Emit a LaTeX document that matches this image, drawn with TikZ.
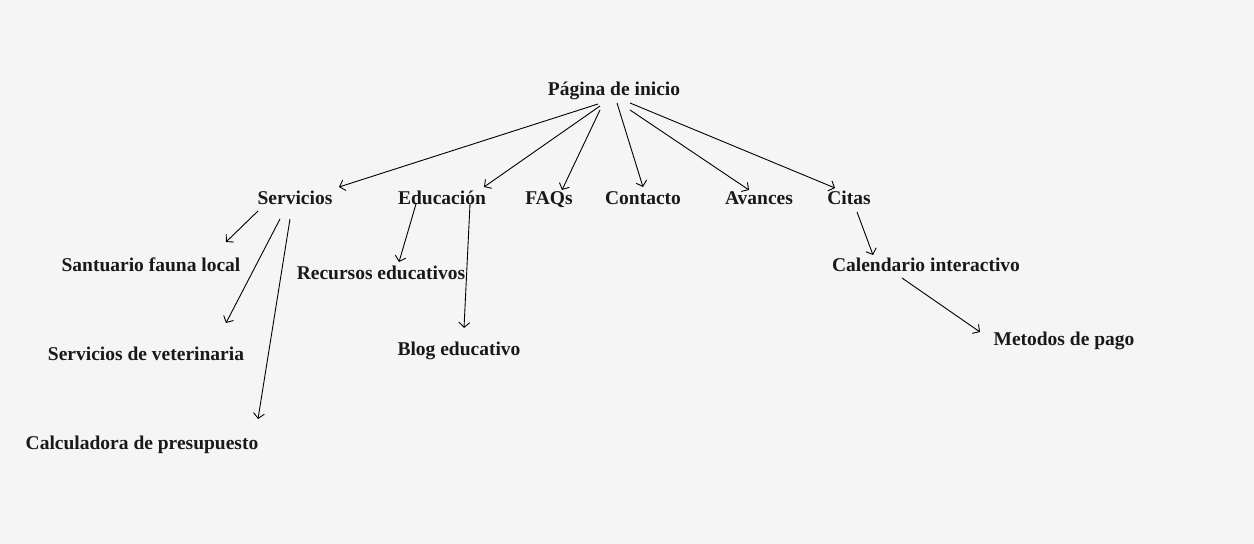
\documentclass[tikz,border=0pt]{standalone}
\usepackage{fontspec}
\setmainfont{Liberation Serif}
\usetikzlibrary{arrows.meta}

\definecolor{pagebg}{HTML}{F5F5F5}

\begin{document}
\begin{tikzpicture}[
        x=1bp, y=-1bp,
        page/.style={font=\fontsize{19.5bp}{23bp}\selectfont\bfseries, text=black!90, inner sep=1pt, text height=1.5ex, text depth=0.3ex},
        line/.style={draw, -{Straight Barb[length=5bp, width=11bp]}, line width=0.9bp, black}
    ]
        % Background
        \fill [pagebg] (0,0) rectangle (1254,544);
        \useasboundingbox (0,0) rectangle (1254,544);

        % Nodes
        \node [page] (inicio) at (614,93) {Página de inicio};
        \node [page] (serv) at (295,202) {Servicios};
        \node [page] (educ) at (442,202) {Educación};
        \node [page] (faqs) at (549,202) {FAQs};
        \node [page] (cont) at (643,202) {Contacto};
        \node [page] (avan) at (759,202) {Avances};
        \node [page] (citas) at (849,202) {Citas};
        \node [page] (sant) at (151,269) {Santuario fauna local};
        \node [page] (vet) at (146,358) {Servicios de veterinaria};
        \node [page] (calc) at (142,447) {Calculadora de presupuesto};
        \node [page] (recur) at (381,277) {Recursos educativos};
        \node [page] (blog) at (459,353) {Blog educativo};
        \node [page] (cal) at (926,269) {Calendario interactivo};
        \node [page] (pago) at (1064,343) {Metodos de pago};

        % Edges
        \path [line] ([shift={(-16,11)}]inicio.center) -- ([shift={(44,-15)}]serv.center);
        \path [line] ([shift={(-14,13)}]inicio.center) -- ([shift={(42,-15)}]educ.center);
        \path [line] ([shift={(-14,17)}]inicio.center) -- ([shift={(13,-12)}]faqs.center);
        \path [line] ([shift={(3,10)}]inicio.center) -- ([shift={(0,-15)}]cont.center);
        \path [line] ([shift={(16,17)}]inicio.center) -- ([shift={(-10,-12)}]avan.center);
        \path [line] ([shift={(16,10)}]inicio.center) -- ([shift={(-14,-14)}]citas.center);
        \path [line] ([shift={(-37,9)}]serv.center) -- ([shift={(75,-27)}]sant.center);
        \path [line] ([shift={(-15,17)}]serv.center) -- ([shift={(80,-35)}]vet.center);
        \path [line] ([shift={(-5,17)}]serv.center) -- ([shift={(116,-28)}]calc.center);
        \path [line] ([shift={(-26,2)}]educ.center) -- ([shift={(18,-15)}]recur.center);
        \path [line] ([shift={(28,2)}]educ.center) -- ([shift={(5,-25)}]blog.center);
        \path [line] ([shift={(8,10)}]citas.center) -- ([shift={(-53,-14)}]cal.center);
        \path [line] ([shift={(-24,9)}]cal.center) -- ([shift={(-84,-11)}]pago.center);
    \end{tikzpicture}
\end{document}
